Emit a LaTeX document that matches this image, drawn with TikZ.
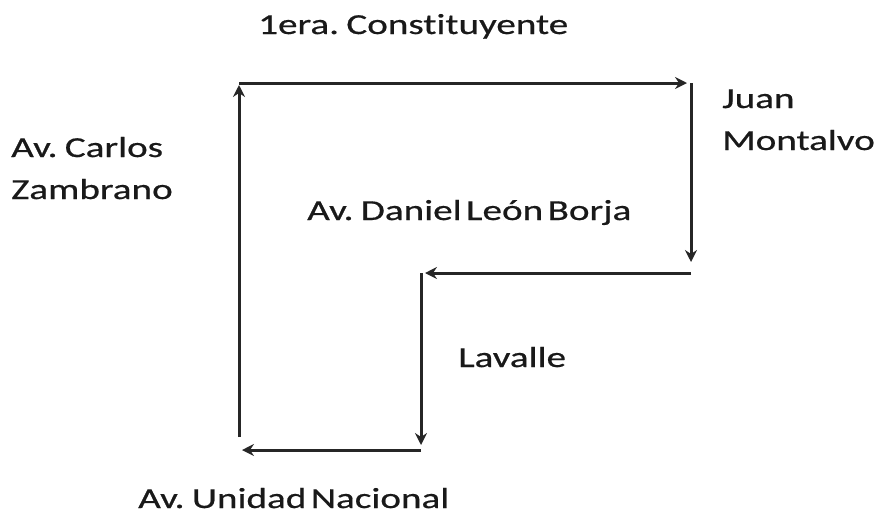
\documentclass[tikz,border=0pt]{standalone}
\usepackage{fontspec}
\setmainfont{Carlito}[FakeStretch=1.35, WordSpace=0.5, FakeBold=0.6, Ligatures=NoCommon]
\usetikzlibrary{arrows.meta}
\tikzset{street/.style={draw=black!85, line width=3pt, -{Stealth[length=12pt,width=12pt,inset=4pt]}},
   label/.style={font=\fontsize{29}{42}\selectfont, text=black!90, inner sep=0pt, anchor=base west, align=left}}
\begin{document}
\begin{tikzpicture}[x=1pt,y=-1pt]
\useasboundingbox (0,0) rectangle (880,520);

%\draw[help lines] (0,0) grid (880,520);

% corners of the block
\coordinate (nw) at (239,83);
\coordinate (ne) at (691,83);
\coordinate (se) at (691,273);
\coordinate (mid) at (421,273);
\coordinate (sm) at (421,450);
\coordinate (sw) at (239,450);

% one-way streets
\draw[street, shorten >=4pt] (nw) -- (ne);
\draw[street, shorten >=11pt] (ne) -- (se);
\draw[street, shorten >=4pt] (se) -- (mid);
\draw[street, shorten >=5pt] (mid) -- (sm);
\draw[street, shorten >=3pt] (sm) -- (sw);
\draw[street, shorten <=13pt, shorten >=2pt] (sw) -- (nw);

% street names
\node[label] (top) at (258,34) {1era. Constituyente};
\node[label] (left) at (11,199) {Av. Carlos\\Zambrano};
\node[label] (right) at (722,150) {Juan\\Montalvo};
\node[label] (centre) at (307,220) {Av. Daniel León Borja};
\node[label] (lav) at (458,367) {Lavalle};
\node[label] (bottom) at (138,508) {Av. Unidad Nacional};
\end{tikzpicture}
\end{document}
